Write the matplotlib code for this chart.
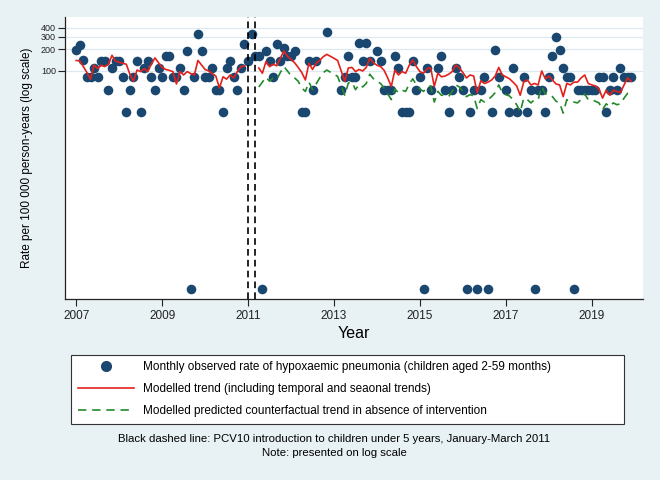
import matplotlib
matplotlib.use("Agg")
import matplotlib.pyplot as plt
from matplotlib.lines import Line2D
import numpy as np

plt.rcParams['font.family'] = ['Liberation Sans', 'DejaVu Sans']

# monthly data, Jan 2007 .. Dec 2019 (156 months); nan = no point shown
nan = np.nan
observed = [
    196, 230, 142, 82, 82, 110, 82, 139, 139, 54, 110, 139,      # 2007
    139, 82, 27, 54, 82, 139, 27, 110, 139, 82, 54, 110,         # 2008
    82, 163, 163, 82, 82, 109, 54, 190, 0, 82, 326, 190,         # 2009
    82, 82, 109, 54, 54, 27, 109, 136, 82, 54, 109, 240,         # 2010
    136, 326, 163, 163, 0, 190, 136, 82, 240, 136, 210, 160,     # 2011
    160, 190, nan, 27, 27, 136, 54, 136, nan, nan, 345, nan,     # 2012
    nan, nan, 54, 82, 163, 82, 82, 242, 136, 242, 136, nan,      # 2013
    190, 136, 54, 54, 54, 163, 109, 27, 27, 27, 136, 54,         # 2014
    82, 0, 109, 54, nan, 109, 163, 54, 27, 54, 109, 82,          # 2015
    54, 0, 27, 54, 0, 54, 82, 0, 27, 196, 82, nan,               # 2016
    54, 27, 109, 27, nan, 82, 27, 54, 0, 54, 54, 27,             # 2017
    82, 163, 300, 196, 109, 82, 82, 0, 54, 54, 54, 54,           # 2018
    54, 54, 82, 82, 27, 54, 82, 54, 109, 82, 82, 82,             # 2019
]
modelled = [
    140, 138, 115, 95, 77, 121, 108, 120, 115, 124, 165, 137,
    132, 128, 124, 90, 72, 103, 98, 108, 98, 125, 152, 130,
    112, 105, 102, 98, 66, 98, 88, 98, 92, 88, 140, 121,
    105, 100, 92, 85, 58, 83, 77, 88, 80, 98, 115, 117,
    nan, nan, nan, 110, 93, 135, 115, 124, 118, 150, 190, 160,
    145, 130, 112, 95, 75, 128, 105, 128, 140, 158, 170, 160,
    150, 140, 100, 72, 110, 112, 98, 105, 100, 112, 150, 130,
    120, 115, 102, 80, 61, 103, 88, 98, 93, 120, 142, 115,
    98, 93, 108, 110, 61, 93, 83, 85, 90, 98, 121, 110,
    95, 80, 88, 85, 50, 73, 67, 70, 75, 85, 112, 88,
    83, 78, 70, 62, 46, 71, 75, 64, 67, 64, 100, 78,
    85, 75, 66, 64, 44, 67, 64, 70, 70, 80, 88, 67,
    64, 62, 56, 42, 54, 46, 54, 52, 50, 64, 80, 72,
]
counterfactual = [nan] * 51 + [
    60, 70, 82, 72, 80, 76, 95, 115, 100,
    86, 80, 72, 58, 52, 70, 55, 66, 80, 95, 103, 96,
    90, 84, 62, 46, 68, 70, 55, 65, 60, 67, 90, 78,
    72, 67, 58, 48, 40, 56, 50, 54, 52, 66, 78, 64,
    56, 52, 60, 62, 37, 52, 46, 46, 44, 52, 64, 60,
    52, 44, 47, 45, 30, 40, 37, 40, 44, 50, 64, 50,
    47, 45, 40, 34, 27, 42, 40, 36, 40, 40, 61, 48,
    48, 44, 38, 36, 26, 40, 37, 37, 36, 40, 48, 40,
    40, 38, 36, 29, 35, 32, 36, 34, 35, 42, 49, 45,
]
zero_plot_value = 0.095   # zero months are drawn at the floor of the log axis
pcv10_lines = [2011.0, 2011 + 2 / 12]
year_ticks = [2007, 2009, 2011, 2013, 2015, 2017, 2019]
rate_ticks = [100, 200, 300, 400]

months = 2007 + np.arange(len(observed)) / 12
obs = np.array(observed, dtype=float)
obs_plot = np.where(obs == 0, zero_plot_value, obs)

navy = '#1a476f'
red = '#e3211c'
green = '#23892b'
bg = '#e8f1f4'

fig = plt.figure(figsize=(6.6, 4.8), dpi=100, facecolor=bg)
ax = fig.add_axes([0.0985, 0.377, 0.8757, 0.5876])
ax.set_facecolor('white')

ax.set_yscale('log')
for v in rate_ticks:
    ax.axhline(v, color='#dde9f0', lw=0.9, zorder=0)

ax.scatter(months, obs_plot, s=48, color=navy, zorder=2, linewidths=0)
ax.plot(months, modelled, color=red, lw=1.2, zorder=3)
ax.plot(months, counterfactual, color=green, lw=1.2, ls=(0, (5, 3.5)), zorder=3)
for xv in pcv10_lines:
    ax.axvline(xv, color='black', lw=1.2, ls=(0, (4, 2.5)), zorder=4)

ax.set_xlim(2006.74, 2020.19)
ax.set_ylim(0.068, 562)
ax.set_xticks(year_ticks)
ax.set_xticklabels([str(y) for y in year_ticks], fontsize=8.5)
ax.set_yticks(rate_ticks)
ax.set_yticklabels([str(v) for v in rate_ticks], fontsize=6.5)
ax.yaxis.set_minor_locator(matplotlib.ticker.NullLocator())
ax.tick_params(axis='x', length=5, width=0.8, pad=3, colors='#222222')
ax.tick_params(axis='y', length=5, width=0.8, pad=1.5, colors='#222222')

for s in ['top', 'right']:
    ax.spines[s].set_visible(False)
for s in ['left', 'bottom']:
    ax.spines[s].set_color('#222222')
    ax.spines[s].set_linewidth(0.9)

ax.set_ylabel('Rate per 100 000 person-years (log scale)', fontsize=8.5, labelpad=6)
ax.set_xlabel('Year', fontsize=11.5, labelpad=3)

handles = [
    Line2D([], [], marker='o', ls='none', color=navy, markersize=7),
    Line2D([], [], color=red, lw=1.2),
    Line2D([], [], color=green, lw=1.2, ls=(0, (5, 3.5))),
]
labels = [
    'Monthly observed rate of hypoxaemic pneumonia (children aged 2-59 months)',
    'Modelled trend (including temporal and seaonal trends)',
    'Modelled predicted counterfactual trend in absence of intervention',
]
leg = fig.legend(handles, labels, loc='lower left',
                 bbox_to_anchor=(0.1076, 0.1167, 0.8374, 0.15), mode='expand',
                 borderaxespad=0, fontsize=8.5, handlelength=4.8,
                 handletextpad=0.75, labelspacing=0.85, borderpad=0.55,
                 fancybox=False, framealpha=1, facecolor='white',
                 edgecolor='#333333')
leg.get_frame().set_linewidth(0.8)

fig.text(0.506, 1 - 439 / 480,
         'Black dashed line: PCV10 introduction to children under 5 years, January-March 2011',
         ha='center', va='center', fontsize=8.2)
fig.text(0.506, 1 - 453 / 480, 'Note: presented on log scale',
         ha='center', va='center', fontsize=8.2)

fig.savefig('out.png', dpi=100, facecolor=bg)
